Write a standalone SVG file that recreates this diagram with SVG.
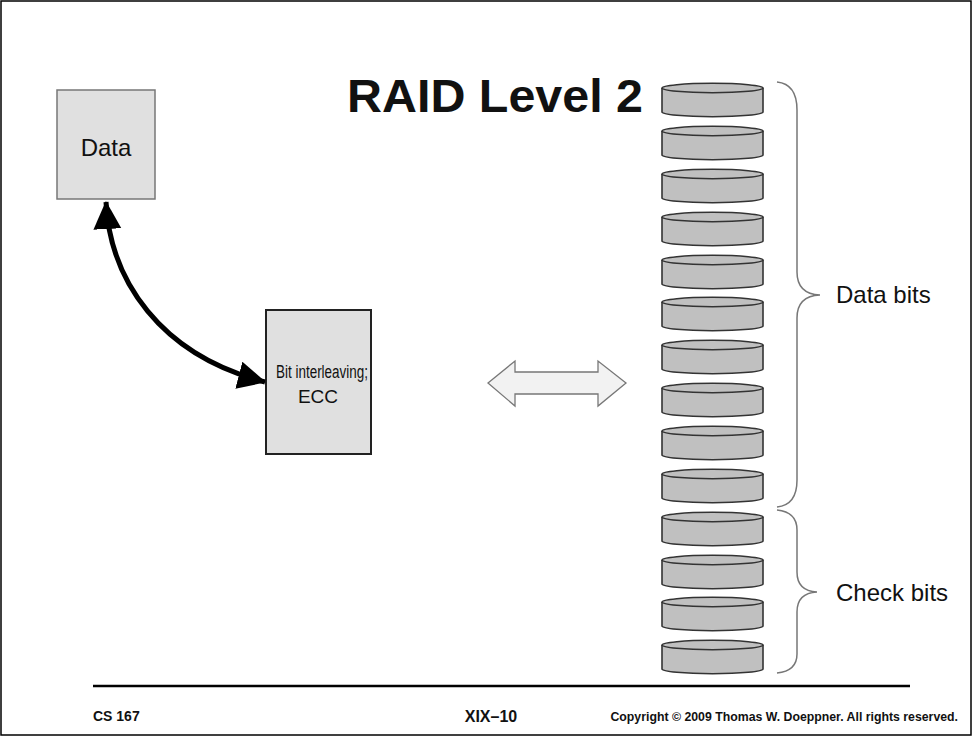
<svg xmlns="http://www.w3.org/2000/svg" width="972" height="736" viewBox="0 0 972 736">
<style>
text{font-family:"Liberation Sans",Arial,sans-serif;fill:#111}
.disk{fill:#c0c0c0;stroke:#333;stroke-width:1.6}
.brace{fill:none;stroke:#777;stroke-width:1.5}
.lbl{font-size:24px}
.foot{font-weight:bold}
</style>
<defs>
<g id="cyl">
<path class="disk" d="M0,0 V24 A50.5,4.7 0 0 0 101,24 V0"/>
<ellipse class="disk" cx="50.5" cy="0" rx="50.5" ry="4.7"/>
</g>
<marker id="ah" markerWidth="30" markerHeight="30" refX="27" refY="14" orient="auto-start-reverse" markerUnits="userSpaceOnUse" viewBox="0 0 30 30">
<path d="M0,0 L28,14 L0,28 z" fill="#000"/>
</marker>
</defs>
<rect x="0" y="0" width="972" height="736" fill="#fff"/>
<rect x="1" y="1" width="970" height="734" fill="none" stroke="#000" stroke-width="1.5"/>
<text x="347" y="112" font-size="47" font-weight="bold" textLength="296" lengthAdjust="spacingAndGlyphs">RAID Level 2</text>
<g id="data">
<rect x="57" y="90" width="98" height="109" fill="#e0e0e0" stroke="#777" stroke-width="1.5"/>
<text class="lbl" x="106" y="156" text-anchor="middle">Data</text>
</g>
<g id="ecc">
<rect x="266" y="310" width="105" height="144" fill="#e0e0e0" stroke="#222" stroke-width="2"/>
<text x="276" y="378" font-size="18" textLength="92" lengthAdjust="spacingAndGlyphs">Bit interleaving;</text>
<text x="318" y="403" font-size="19" text-anchor="middle">ECC</text>
</g>
<g id="disks">
<use href="#cyl" x="662" y="88"/>
<use href="#cyl" x="662" y="131"/>
<use href="#cyl" x="662" y="174"/>
<use href="#cyl" x="662" y="217"/>
<use href="#cyl" x="662" y="260"/>
<use href="#cyl" x="662" y="302"/>
<use href="#cyl" x="662" y="345"/>
<use href="#cyl" x="662" y="388"/>
<use href="#cyl" x="662" y="431"/>
<use href="#cyl" x="662" y="474"/>
<use href="#cyl" x="662" y="517"/>
<use href="#cyl" x="662" y="560"/>
<use href="#cyl" x="662" y="602"/>
<use href="#cyl" x="662" y="645"/>
</g>
<g id="braces">
<path class="brace" d="M777,82 Q797,84 797,110 V272 Q797,294 820,295 Q797,296 797,318 V480 Q797,505 777,507"/>
<path class="brace" d="M777,510 Q797,512 797,530 V572 Q797,591 817,592 Q797,593 797,612 V654 Q797,671 777,673"/>
<text class="lbl" x="836" y="303">Data bits</text>
<text class="lbl" x="836" y="601">Check bits</text>
</g>
<g id="connectors">
<path d="M106,202 C110,280 160,355 265,382" fill="none" stroke="#000" stroke-width="5" marker-start="url(#ah)" marker-end="url(#ah)"/>
<path d="M488,383 L515,361 V372 H598 V361 L626,383 L598,406 V394 H515 V406 Z" fill="#f2f2f2" stroke="#777" stroke-width="1.3"/>
</g>
<g id="footer">
<line x1="93" y1="686" x2="910" y2="686" stroke="#000" stroke-width="2.5"/>
<text class="foot" x="93" y="721" font-size="14">CS 167</text>
<text class="foot" x="491" y="722" font-size="16" text-anchor="middle">XIX–10</text>
<text class="foot" x="958" y="721" font-size="12.3" text-anchor="end">Copyright © 2009 Thomas W. Doeppner. All rights reserved.</text>
</g>
</svg>
